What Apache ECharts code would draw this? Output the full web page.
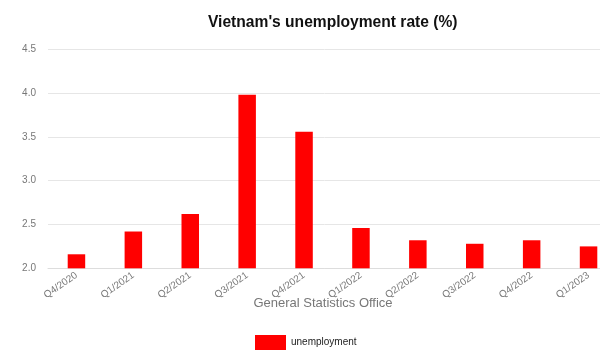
<!DOCTYPE html>
<html>
<head>
<meta charset="utf-8">
<script src="https://cdn.jsdelivr.net/npm/echarts@6/dist/echarts.min.js"></script>
<style>
html,body{margin:0;padding:0;background:#fff;}
#chart{width:600px;height:356px;}
</style>
</head>
<body>
<div id="chart"></div>
<script>
var categories = ['Q4/2020','Q1/2021','Q2/2021','Q3/2021','Q4/2021','Q1/2022','Q2/2022','Q3/2022','Q4/2022','Q1/2023'];
var unemployment = [2.16, 2.42, 2.62, 3.98, 3.56, 2.46, 2.32, 2.28, 2.32, 2.25];
var titleText = "Vietnam's unemployment rate (%)";
var xAxisName = 'General Statistics Office';
var seriesName = 'unemployment';

var chart = echarts.init(document.getElementById('chart'), null, {renderer:'canvas'});
chart.setOption({
  animation: false,
  backgroundColor: '#fff',
  title: {
    text: titleText,
    left: 208,
    top: 15,
    padding: 0,
    textStyle: {fontFamily: 'Liberation Sans, Arial, sans-serif', fontSize: 15.6, fontWeight: 'bold', color: '#111'}
  },
  legend: {
    data: [{name: seriesName, icon: 'rect'}],
    left: 255, top: 335,
    padding: 0,
    itemWidth: 31, itemHeight: 15, itemGap: 10,
    textStyle: {fontFamily: 'Liberation Sans, Arial, sans-serif', fontSize: 10, color: '#222'}
  },
  grid: {left: 48, top: 49.3, right: -17, bottom: 87.7, containLabel: false, outerBoundsMode: 'none'},
  xAxis: {
    type: 'category',
    data: categories,
    name: xAxisName,
    nameLocation: 'middle',
    nameGap: 29,
    nameMoveOverlap: false,
    nameTextStyle: {fontFamily: 'Liberation Sans, Arial, sans-serif', fontSize: 13, color: '#777', padding: [0, 19, 0, 0]},
    axisLine: {lineStyle: {color: '#ddd'}},
    axisTick: {show: false},
    axisLabel: {rotate: 35, margin: 6, fontFamily: 'Liberation Sans, Arial, sans-serif', fontSize: 10, color: '#777', interval: 0}
  },
  yAxis: {
    type: 'value',
    min: 2, max: 4.5, interval: 0.5,
    axisLine: {show: false},
    axisTick: {show: false},
    splitLine: {lineStyle: {color: '#e6e6e6'}},
    axisLabel: {margin: 12, fontFamily: 'Liberation Sans, Arial, sans-serif', fontSize: 10, color: '#777',
      formatter: function (v) { return v.toFixed(1); }}
  },
  series: [{
    name: seriesName,
    type: 'bar',
    data: unemployment,
    barWidth: 17.5,
    itemStyle: {color: '#ff0000'}
  }]
});
</script>
</body>
</html>
